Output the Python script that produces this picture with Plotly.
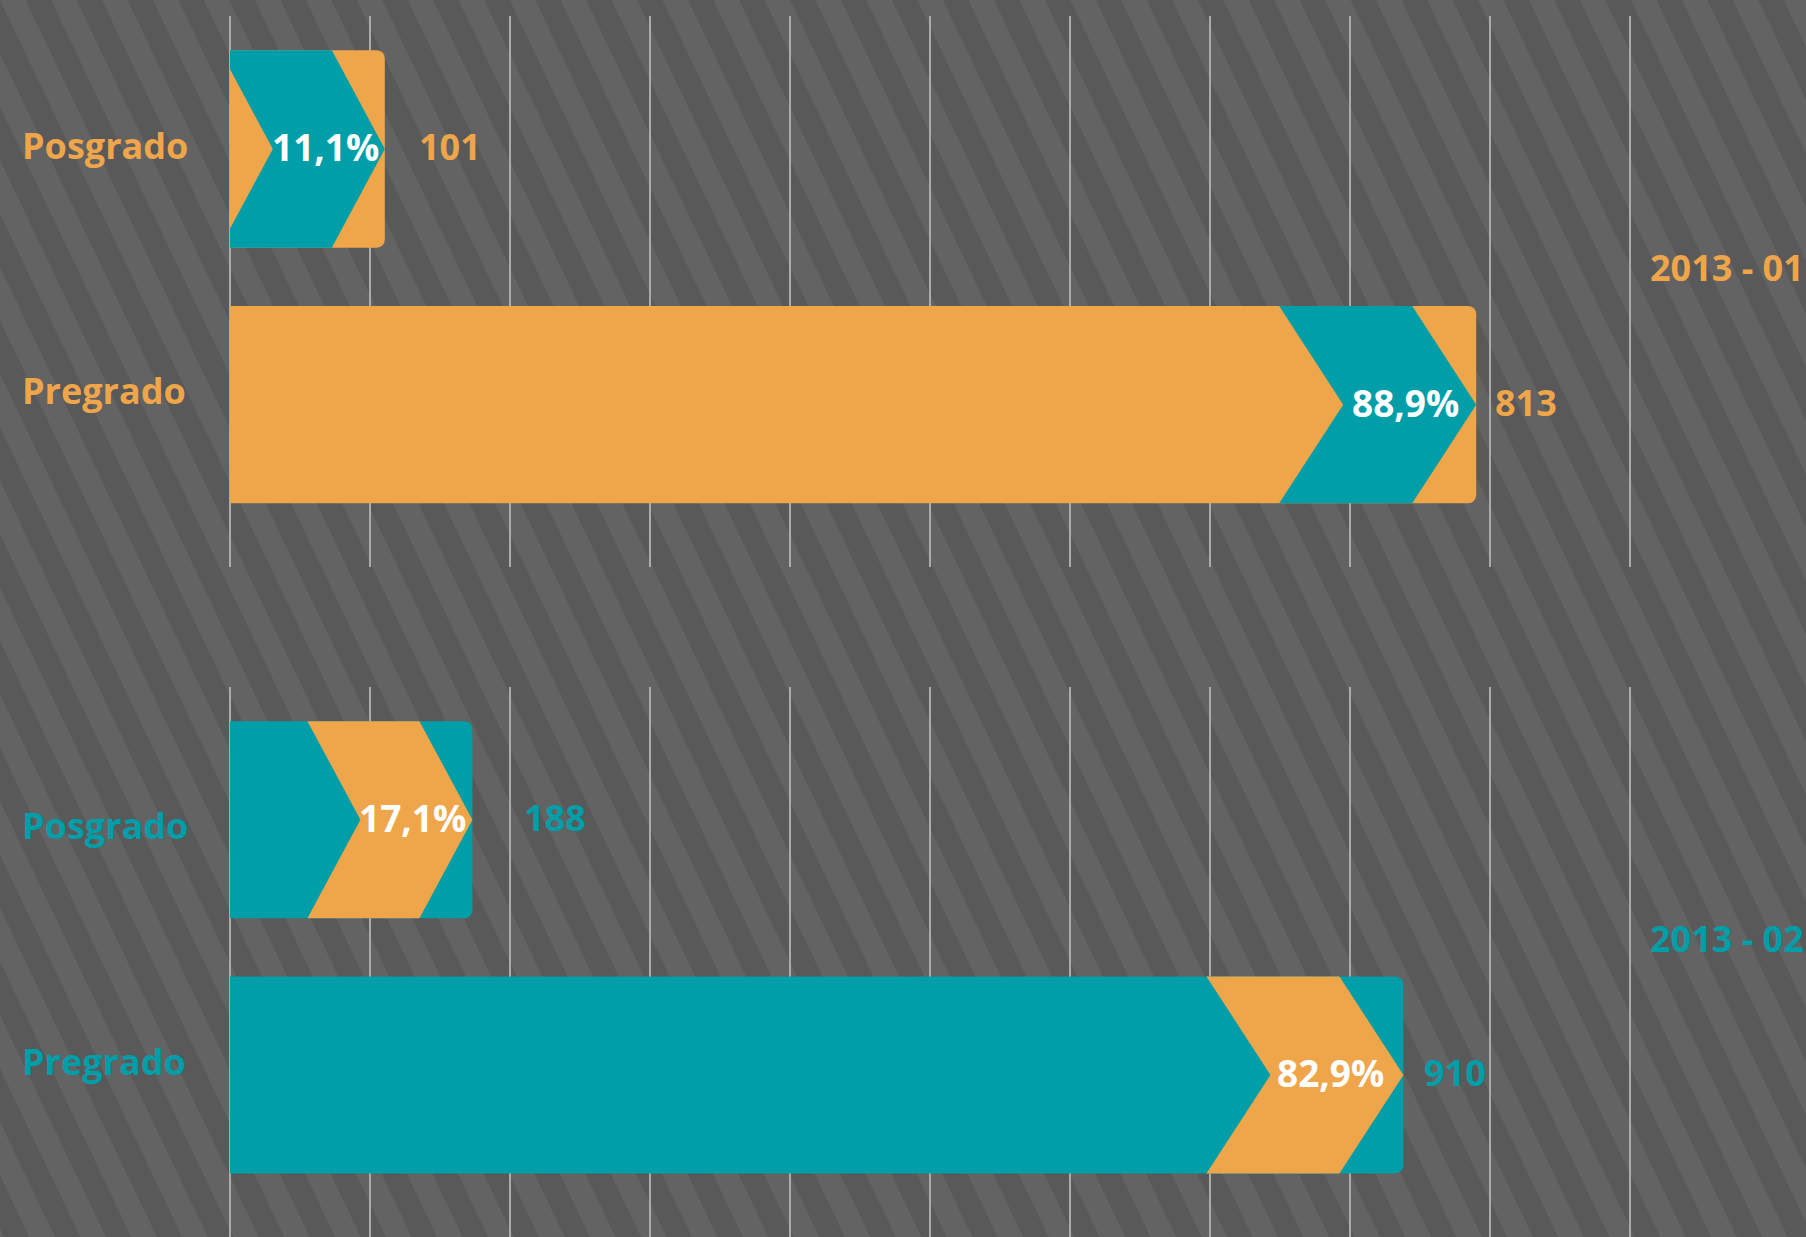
import base64
import plotly.graph_objects as go

# ---------------- data ----------------
periods = ["2013 - 01", "2013 - 02"]
levels = ["Posgrado", "Pregrado"]
students_2013_01 = [101, 813]
students_2013_02 = [188, 910]
share_2013_01 = ["11,1%", "88,9%"]
share_2013_02 = ["17,1%", "82,9%"]

# ---------------- style ----------------
FIG_W, FIG_H = 1806, 1237
ORANGE = "#EFA54A"
TEAL = "#009EA8"
WHITE = "#FFFFFF"
STRIPE_DARK = "#595959"
STRIPE_LIGHT = "#636363"
GRID = "#ABABAB"
FONT = "Open Sans"
FS = 36
FS_PCT = 37

AX_X0, AX_X1 = 230, 1700                 # horizontal extent of the plotting area (px)
PANEL_PX = [(16, 567), (687, 1237)]       # vertical extent of each panel (px)
X_MAX = [959, 1140]                       # axis range max per panel
Y_RANGE = [-0.635, 1.52]
GRID_PX = 140                             # grid spacing in px
BAR_W = 0.772
CORNER = 8
CHEV_OFF = [53, 64]                       # chevron slant (px) for [Posgrado, Pregrado]
CHEV_THICK = [112, 133]                   # chevron thickness (px)
LABEL_YSHIFT = [[3, 14], [-6, 13]]
VALUE_XSHIFT = [[32, 17], [50, 19]]
PCT_XSHIFT = [[-4, -15], [-4, -17]]
YEAR_Y = 0.535

panel_values = [students_2013_01, students_2013_02]
panel_shares = [share_2013_01, share_2013_02]
bar_colors = [ORANGE, TEAL]
chev_colors = [TEAL, ORANGE]
ypos = [1 - i for i in range(len(levels))]   # Posgrado on top


def clip_left(poly, xmin=0.0):
    """Clip polygon to x >= xmin (Sutherland-Hodgman, one edge)."""
    out = []
    n = len(poly)
    for k in range(n):
        cur = poly[k]
        prev = poly[k - 1]
        cin = cur[0] >= xmin
        pin = prev[0] >= xmin
        if cin:
            if not pin:
                t = (xmin - prev[0]) / (cur[0] - prev[0])
                out.append((xmin, prev[1] + t * (cur[1] - prev[1])))
            out.append(cur)
        elif pin:
            t = (xmin - prev[0]) / (cur[0] - prev[0])
            out.append((xmin, prev[1] + t * (cur[1] - prev[1])))
    return out


fig = go.Figure()
annotations = []
layout_axes = {}

for p in range(2):
    xa = "x" if p == 0 else "x2"
    ya = "y" if p == 0 else "y2"
    top_px, bot_px = PANEL_PX[p]
    sx = (AX_X1 - AX_X0) / X_MAX[p]
    vals = panel_values[p]

    fig.add_trace(go.Bar(
        x=vals, y=ypos, orientation="h", width=BAR_W,
        marker=dict(color=bar_colors[p], cornerradius=CORNER, line=dict(width=0)),
        xaxis=xa, yaxis=ya, hoverinfo="skip", showlegend=False,
    ))

    for i, v in enumerate(vals):
        yc = ypos[i]
        h = BAR_W / 2
        off = CHEV_OFF[i] / sx
        th = CHEV_THICK[i] / sx
        poly = [(v - off, yc + h), (v, yc), (v - off, yc - h),
                (v - th - off, yc - h), (v - th, yc), (v - th - off, yc + h)]
        poly = clip_left(poly, 0.0)
        xs = [q[0] for q in poly] + [poly[0][0]]
        ys = [q[1] for q in poly] + [poly[0][1]]
        fig.add_trace(go.Scatter(
            x=xs, y=ys, mode="lines", fill="toself", fillcolor=chev_colors[p],
            line=dict(width=0, color=chev_colors[p]),
            xaxis=xa, yaxis=ya, hoverinfo="skip", showlegend=False,
        ))

        # category label
        annotations.append(dict(
            text=levels[i], xref="paper", yref=ya, x=20 / FIG_W, y=yc,
            xanchor="left", yanchor="middle", yshift=LABEL_YSHIFT[p][i],
            showarrow=False, font=dict(family=FONT, size=FS, color=bar_colors[p], weight="bold"),
        ))
        # value label
        annotations.append(dict(
            text=str(v), xref=xa, yref=ya, x=v, y=yc,
            xanchor="left", yanchor="middle", xshift=VALUE_XSHIFT[p][i], yshift=2,
            showarrow=False, font=dict(family=FONT, size=FS, color=bar_colors[p], weight="bold"),
        ))
        # share label
        annotations.append(dict(
            text=panel_shares[p][i], xref=xa, yref=ya, x=v, y=yc,
            xanchor="right", yanchor="middle", xshift=PCT_XSHIFT[p][i], yshift=2,
            showarrow=False, font=dict(family=FONT, size=FS_PCT, color=WHITE, weight="bold"),
        ))

    # period label
    annotations.append(dict(
        text=periods[p], xref="paper", yref=ya, x=1648 / FIG_W, y=YEAR_Y,
        xanchor="left", yanchor="middle", showarrow=False,
        font=dict(family=FONT, size=FS, color=bar_colors[p], weight="bold"),
    ))

    xkey = "xaxis" if p == 0 else "xaxis2"
    ykey = "yaxis" if p == 0 else "yaxis2"
    layout_axes[xkey] = dict(
        domain=[AX_X0 / FIG_W, AX_X1 / FIG_W], range=[0, X_MAX[p]], anchor=ya,
        showgrid=True, gridcolor=GRID, gridwidth=2, tick0=0, dtick=GRID_PX / sx,
        zeroline=True, zerolinecolor=GRID, zerolinewidth=2,
        showticklabels=False, ticks="", showline=False, fixedrange=True,
    )
    layout_axes[ykey] = dict(
        domain=[1 - bot_px / FIG_H, 1 - top_px / FIG_H], range=Y_RANGE, anchor=xa,
        showgrid=False, zeroline=False, showticklabels=False, ticks="",
        showline=False, fixedrange=True,
    )

# striped background as an inline SVG image
PERIOD = 46
svg = (
    f'<svg xmlns="http://www.w3.org/2000/svg" width="{FIG_W}" height="{FIG_H}">'
    f'<defs><pattern id="s" patternUnits="userSpaceOnUse" width="{PERIOD}" height="{PERIOD}" '
    f'patternTransform="rotate(-25.5)">'
    f'<rect width="{PERIOD}" height="{PERIOD}" fill="{STRIPE_DARK}"/>'
    f'<rect width="{PERIOD / 2}" height="{PERIOD}" fill="{STRIPE_LIGHT}"/>'
    f'</pattern></defs><rect width="100%" height="100%" fill="url(#s)"/></svg>'
)
bg_src = "data:image/svg+xml;base64," + base64.b64encode(svg.encode()).decode()

fig.update_layout(
    width=FIG_W, height=FIG_H, autosize=False,
    margin=dict(l=0, r=0, t=0, b=0, pad=0),
    paper_bgcolor="#5E5E5E", plot_bgcolor="rgba(0,0,0,0)",
    barmode="overlay", showlegend=False, hovermode=False,
    annotations=annotations,
    images=[dict(source=bg_src, xref="paper", yref="paper", x=0, y=1,
                 sizex=1, sizey=1, xanchor="left", yanchor="top",
                 sizing="stretch", layer="below")],
    **layout_axes,
)

fig.write_html(
    "out.html",
    config={"displayModeBar": False},
    post_script="document.body.style.margin='0';document.body.style.background='#5E5E5E';",
)
